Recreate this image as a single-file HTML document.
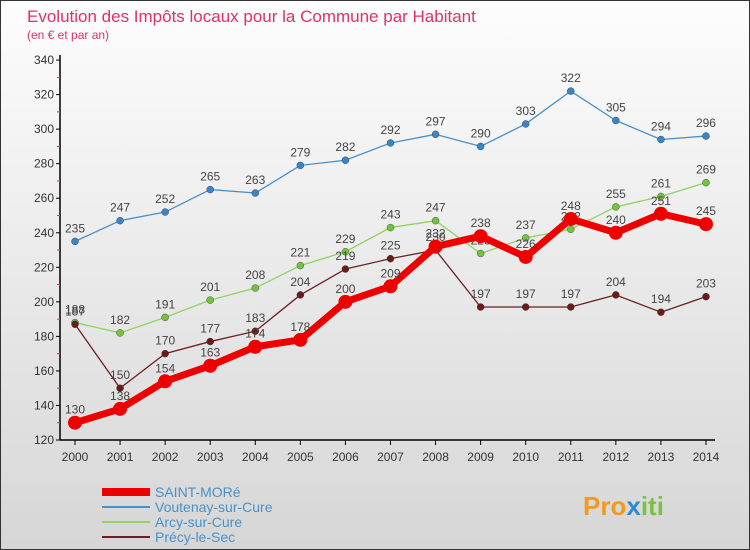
<!DOCTYPE html>
<html><head><meta charset="utf-8"><style>
body{margin:0;width:750px;height:550px;overflow:hidden;font-family:"Liberation Sans",sans-serif}
#wrap{position:absolute;left:0;top:0;width:748px;height:548px;border:1px solid #333;background:linear-gradient(#fdfdfd,#d6d6d6)}
</style></head><body>
<div id="wrap">
<svg id="chart" width="750" height="550" style="position:absolute;left:-1px;top:-1px">
<text x="27" y="22" font-size="17" fill="#e0306a">Evolution des Impôts locaux pour la Commune par Habitant</text>
<text x="27" y="39" font-size="12" fill="#e0306a">(en € et par an)</text>
<g id="axes"></g><g id="series"></g><g id="legend"></g>
<text x="583" y="515" font-size="26" font-weight="bold" fill="#f39a1e">Pro<tspan fill="#2a8ad6">x</tspan><tspan fill="#7cc242">iti</tspan></text>
</svg></div>
<script>
const years=[2000,2001,2002,2003,2004,2005,2006,2007,2008,2009,2010,2011,2012,2013,2014];
const yTicks=[120,140,160,180,200,220,240,260,280,300,320,340];
const saintMore=[130,138,154,163,174,178,200,209,232,238,226,248,240,251,245];
const voutenay=[235,247,252,265,263,279,282,292,297,290,303,322,305,294,296];
const arcy=[188,182,191,201,208,221,229,243,247,228,237,242,255,261,269];
const precy=[187,150,170,177,183,204,219,225,230,197,197,197,204,194,203];
const NS='http://www.w3.org/2000/svg';
const X=i=>75+i*45.07, Y=v=>440-(v-120)*1.727;
function mk(t,a,p){const e=document.createElementNS(NS,t);for(const k in a)e.setAttribute(k,a[k]);p.appendChild(e);return e;}
const ax=document.getElementById('axes');
let e=mk('line',{x1:60,y1:55,x2:60,y2:440,stroke:'#000','stroke-width':1.5},ax);


e=mk('line',{x1:60,y1:440,x2:715,y2:440,stroke:'#000','stroke-width':1.5},ax);


yTicks.forEach(v=>{
 mk('line',{x1:56,y1:Y(v),x2:60,y2:Y(v),stroke:'#000'},ax);
 if(v<340)mk('line',{x1:57,y1:Y(v+10),x2:60,y2:Y(v+10),stroke:'#e33'},ax);
 const t=mk('text',{x:54,y:Y(v)+4,'font-size':12,fill:'#333','text-anchor':'end'},ax);t.textContent=v;
 
 
});
years.forEach((y,i)=>{
 mk('line',{x1:X(i),y1:440,x2:X(i),y2:445,stroke:'#000'},ax);
 const t=mk('text',{x:X(i),y:461,'font-size':12,fill:'#333','text-anchor':'middle'},ax);t.textContent=y;
 
 
});
const sg=document.getElementById('series');
const defs=[[voutenay,'#4a90c8',1.3,3.5,'#3a85c5','voutenay'],[arcy,'#8fd460',1.3,3.5,'#72c43e','arcy'],[precy,'#6b2020',1.3,3.5,'#6b1a1a','precy'],[saintMore,'#ee0000',7,7,'#ee0000','saint-more']];
defs.forEach(([d,c,w,r,mc,n])=>{
 const g=mk('g',{},sg);
 
 
 mk('polyline',{points:d.map((v,i)=>X(i)+','+Y(v)).join(' '),fill:'none',stroke:c,'stroke-width':w,'stroke-linejoin':'round'},g);
 d.forEach((v,i)=>{
  const p=mk('circle',{cx:X(i),cy:Y(v),r:r,fill:mc,stroke:n=='saint-more'?'none':'#333','stroke-width':0.4},g);
  
  
  const t=mk('text',{x:X(i),y:Y(v)-9,'font-size':12,fill:'#444','text-anchor':'middle'},g);t.textContent=v;
 });
});
const lg=document.getElementById('legend');
[['SAINT-MORé','#ee0000',8],['Voutenay-sur-Cure','#4a90c8',2],['Arcy-sur-Cure','#8fd460',2],['Précy-le-Sec','#6b2020',2]].forEach(([l,c,w],i)=>{
 const y=492+i*15;
 const g=mk('g',{},lg);
 
 
 mk('line',{x1:102,y1:y,x2:150,y2:y,stroke:c,'stroke-width':w},g);
 const t=mk('text',{x:155,y:y+5,'font-size':14,fill:'#4a90c8'},g);t.textContent=l;
});
</script></body></html>
